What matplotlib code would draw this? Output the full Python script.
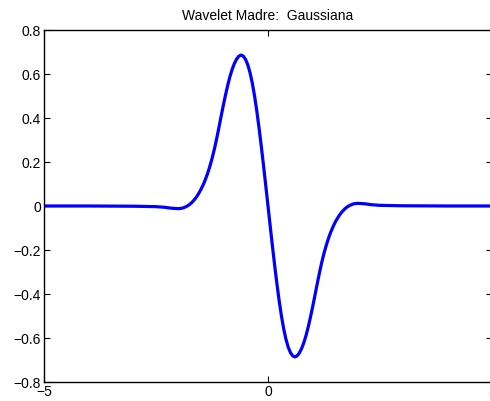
import matplotlib
matplotlib.use("Agg")
import matplotlib.pyplot as plt

plt.rcParams['font.family'] = ['Liberation Sans', 'DejaVu Sans']

# valores
x = [-5.0, -4.0, -3.0, -2.5, -2.3, -2.2, -2.1,
     -2.0, -1.95, -1.9, -1.85, -1.8, -1.75, -1.7, -1.65, -1.6, -1.55,
     -1.5, -1.45, -1.4, -1.35, -1.3, -1.25, -1.2, -1.15, -1.1, -1.05,
     -1.0, -0.95, -0.9, -0.85, -0.8, -0.75, -0.7, -0.65, -0.6, -0.55,
     -0.5, -0.45, -0.4, -0.35, -0.3, -0.25, -0.2, -0.15, -0.1, -0.05,
     0.0,
     0.05, 0.1, 0.15, 0.2, 0.25, 0.3, 0.35, 0.4, 0.45, 0.5,
     0.55, 0.6, 0.65, 0.7, 0.75, 0.8, 0.85, 0.9, 0.95, 1.0,
     1.05, 1.1, 1.15, 1.2, 1.25, 1.3, 1.35, 1.4, 1.45, 1.5,
     1.55, 1.6, 1.65, 1.7, 1.75, 1.8, 1.85, 1.9, 1.95, 2.0,
     2.1, 2.2, 2.3, 2.5, 3.0, 4.0, 5.0]
psi = [0.0, 0.0, -0.001, -0.003, -0.006, -0.009, -0.011,
       -0.012, -0.011, -0.009, -0.005, 0.000, 0.007, 0.016, 0.027, 0.040, 0.056,
       0.074, 0.095, 0.119, 0.147, 0.179, 0.215, 0.256, 0.302, 0.352, 0.404,
       0.455, 0.503, 0.548, 0.588, 0.621, 0.648, 0.668, 0.681, 0.686, 0.681,
       0.666, 0.641, 0.605, 0.558, 0.500, 0.432, 0.355, 0.272, 0.184, 0.093,
       0.0,
       -0.093, -0.184, -0.272, -0.355, -0.432, -0.500, -0.558, -0.605, -0.641, -0.666,
       -0.681, -0.686, -0.681, -0.668, -0.648, -0.621, -0.588, -0.548, -0.503, -0.455,
       -0.404, -0.352, -0.302, -0.256, -0.215, -0.179, -0.147, -0.119, -0.095, -0.074,
       -0.056, -0.040, -0.027, -0.016, -0.007, 0.000, 0.005, 0.009, 0.011, 0.012,
       0.011, 0.009, 0.006, 0.003, 0.001, 0.0, 0.0]

yt = [-0.8, -0.6, -0.4, -0.2, 0, 0.2, 0.4, 0.6, 0.8]
ytl = ['\u22120.8', '\u22120.6', '\u22120.4', '\u22120.2', '0', '0.2', '0.4', '0.6', '0.8']
xt = [-5, 0, 5]
xtl = ['\u22125', '0', '5']

fig = plt.figure(figsize=(4.9, 4.01), dpi=100)
ax = fig.add_axes([44/490, 19/401, 448/490, 352/401])
ax.plot(x, psi, color=(0, 0, 1), lw=2.3, solid_joinstyle='round')
ax.set_xlim(-5, 5)
ax.set_ylim(-0.8, 0.8)
ax.set_xticks(xt)
ax.set_xticklabels(xtl)
ax.set_yticks(yt)
ax.set_yticklabels(ytl)
ax.tick_params(direction='in', length=4, width=0.8, labelsize=10,
               top=True, right=True, pad=2)
for s in ax.spines.values():
    s.set_linewidth(1.0)
ax.set_title('Wavelet Madre:  Gaussiana', fontsize=10, pad=7.5)

fig.savefig('out.png', dpi=100)
